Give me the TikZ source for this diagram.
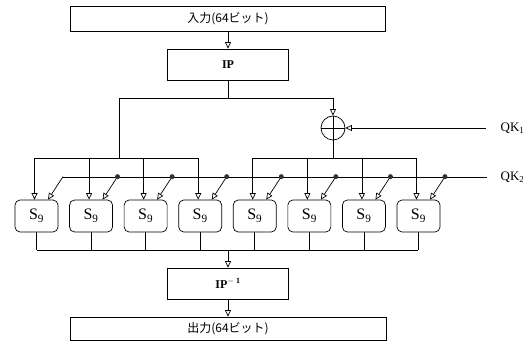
\documentclass[tikz,border=0pt]{standalone}
\usepackage{fontspec}
\setmainfont{Liberation Serif}
\newfontfamily\jpfont{Noto Sans CJK JP}
\usetikzlibrary{arrows.meta,calc}
\begin{document}
\begin{tikzpicture}[x=1pt,y=-1pt,line width=0.7pt,
  rbox/.style={draw,rectangle,inner sep=0pt},
  arr/.style={-{Triangle[open,length=6.5pt,width=6pt]}},
  sbox/.style={draw,rounded corners=5pt,minimum width=43pt,minimum height=32pt,inner sep=0pt,font=\fontsize{16}{16}\selectfont},
  kdot/.style={circle,fill=black!80,inner sep=0pt,minimum size=5pt},
  lbl/.style={font=\fontsize{13}{13}\selectfont}]
\useasboundingbox (0,0) rectangle (523,342);
% boxes
\node[rbox,minimum width=315pt,minimum height=25pt,font=\jpfont\fontsize{12}{12}\selectfont] (in) at (228,18.5) {入力(64ビット)};
\node[rbox,minimum width=121pt,minimum height=31pt,font=\bfseries\fontsize{12}{12}\selectfont] (ip) at (228,64.5) {IP};
\node[rbox,minimum width=121pt,minimum height=31pt,font=\bfseries\fontsize{12}{12}\selectfont] (ipinv) at (228,283.5) {IP\textsuperscript{$-$ 1}};
\node[rbox,minimum width=316pt,minimum height=23pt,font=\jpfont\fontsize{12}{12}\selectfont] (out) at (228,328.5) {出力(64ビット)};
% xor
\node[draw,circle,minimum size=24pt,inner sep=0pt,
  path picture={\draw (path picture bounding box.north) -- (path picture bounding box.south)
                      (path picture bounding box.west) -- (path picture bounding box.east);}] (xor) at (333,128) {};
% s-boxes
\foreach \i in {1,...,8}{
  \node[sbox] (s\i) at ({36.5+(\i-1)*54.57},216) {S\textsubscript{9}};
}
% labels
\node[lbl,anchor=west] (qk1) at (497,128) {QK\textsubscript{1}};
\node[lbl,anchor=west] (qk2) at (497,177) {QK\textsubscript{2}};
% coordinates
\coordinate (sp) at (228,98);
\coordinate (lb) at (119,98);
\coordinate (lbus) at (119,158);
\coordinate (rbus) at (333,158);
\coordinate (bbus) at (228,250);
\coordinate (k1) at (486,128);
\coordinate (k2) at (487,177);
\coordinate (k2l) at (63,177);
% connectors
\draw[arr] (in) -- (ip);
\draw (ip) -- (sp);
\draw[arr] (lb) -| (xor.north);
\draw (lb) -- (lbus);
\draw[arr] (k1) -- (xor.east);
\draw (xor.south) -- (rbus);
\foreach \i in {1,...,4}{
  \draw[arr] (lbus) -| ($(s\i.north)+(-2,0)$);
}
\foreach \i in {5,...,8}{
  \draw[arr] (rbus) -| ($(s\i.north)+(-2,0)$);
}
\draw (k2) -- (k2l);
\foreach \i in {1,...,8}{
  \draw[arr] ($(s\i.north)+(26.5,-23)$) -- ($(s\i.north)+(11.5,0)$);
}
\foreach \i in {2,...,8}{
  \node[kdot] (d\i) at ($(s\i.north)+(26.5,-23)$) {};
}
\foreach \i in {1,...,8}{
  \draw (s\i.south) -- (s\i.south |- bbus);
}
\draw (s1.south |- bbus) -- (s8.south |- bbus);
\draw[arr] (bbus) -- (ipinv);
\draw[arr] (ipinv) -- (out);
\end{tikzpicture}
\end{document}
